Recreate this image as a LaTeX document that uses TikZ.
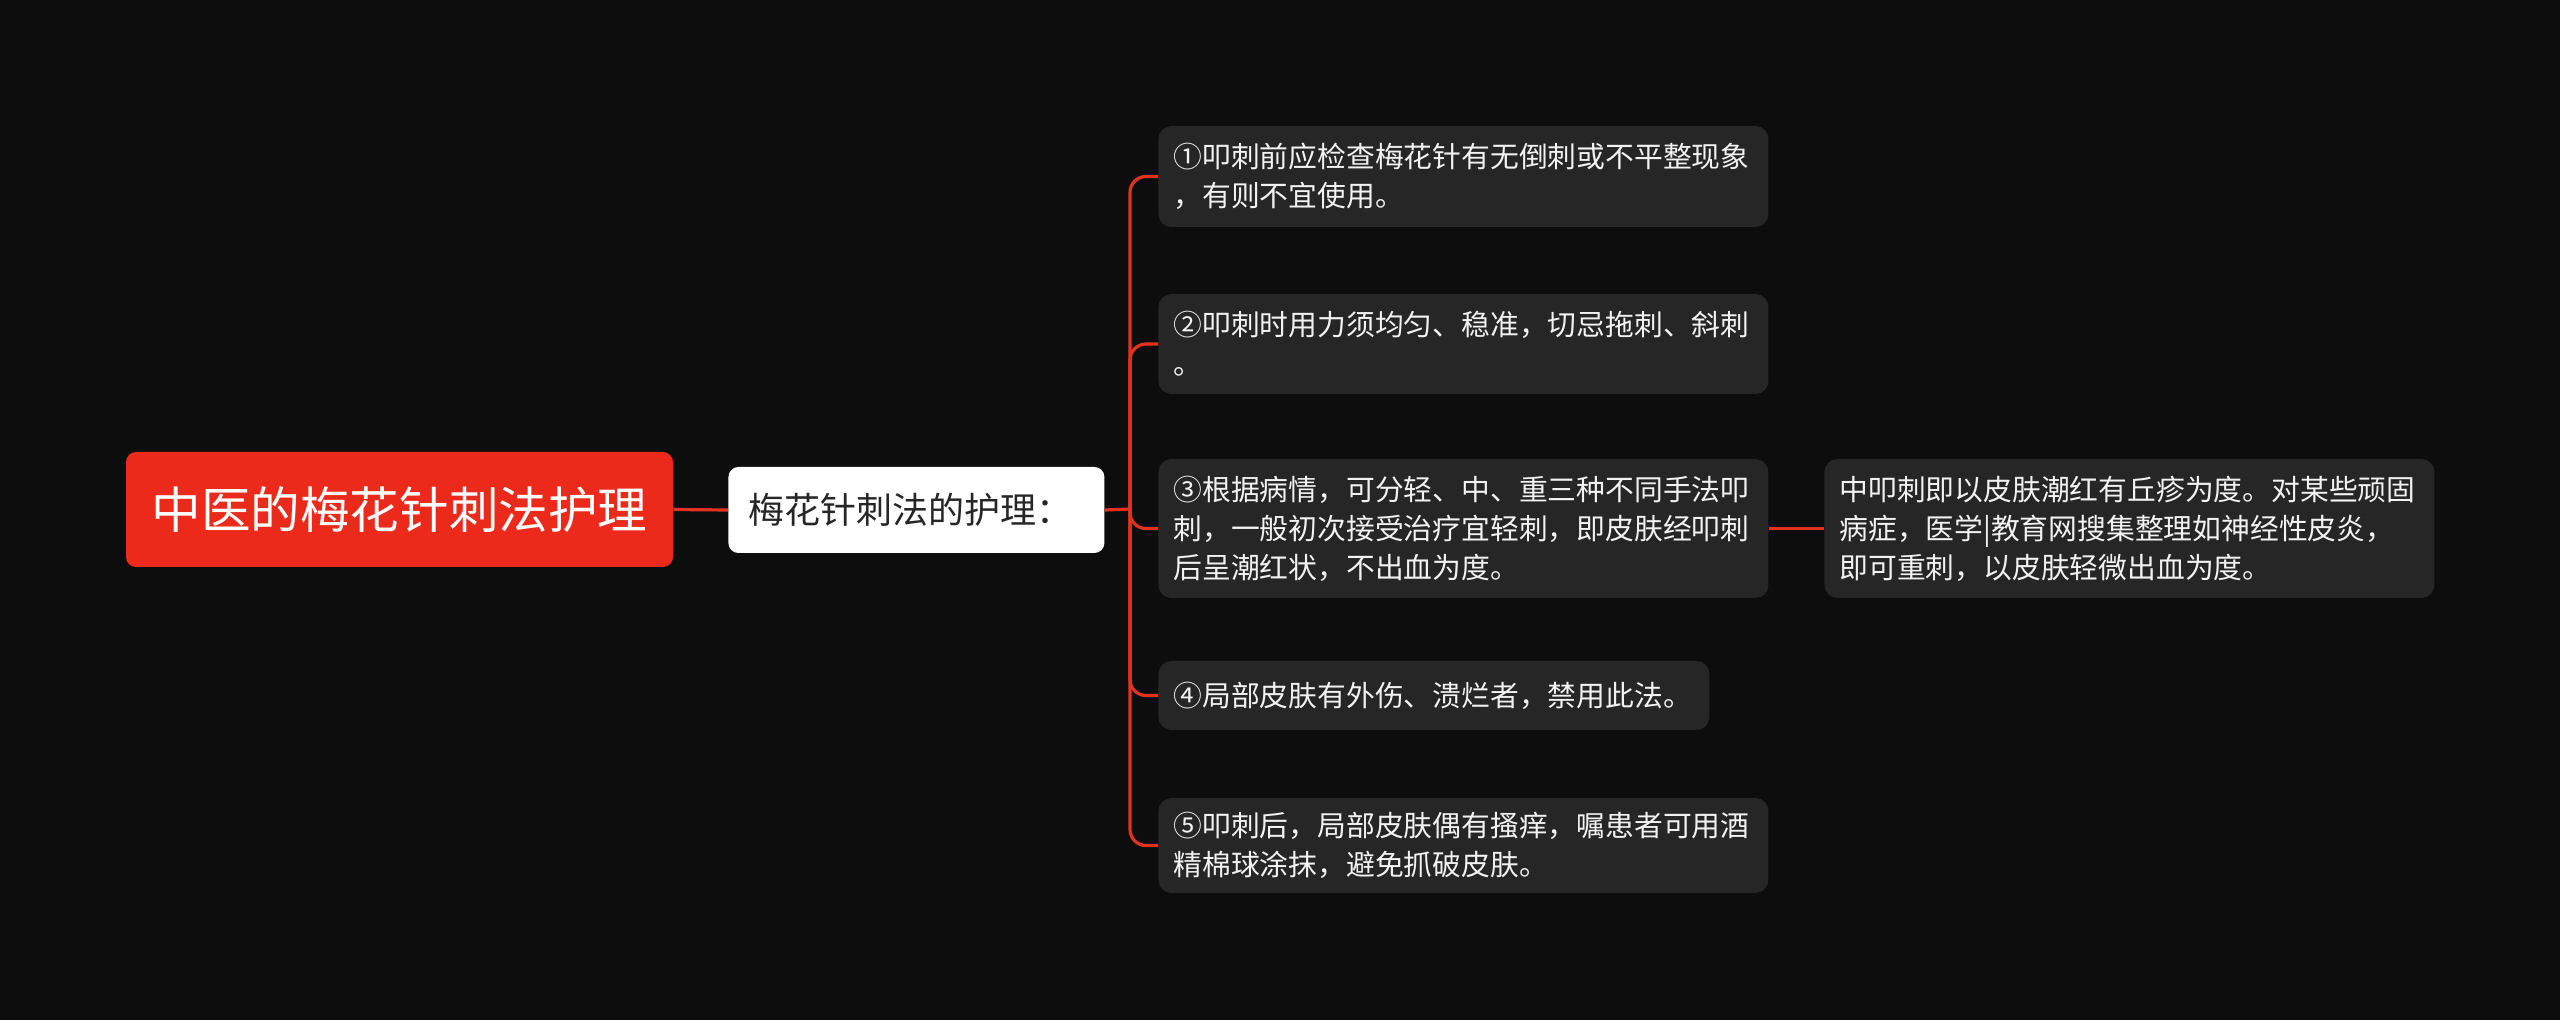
\documentclass[tikz,border=0pt]{standalone}
\usepackage{fontspec}
\setmainfont{Noto Sans CJK SC}

\definecolor{fundo}{HTML}{0D0D0E}
\definecolor{raizcor}{HTML}{EB2A1B}
\definecolor{caixacor}{HTML}{262626}
\definecolor{ramocor}{HTML}{E3321F}
\definecolor{textocor}{HTML}{F2F2F2}

\tikzset{
  raizbox/.style={fill=raizcor, text=white, rounded corners=5pt,
    minimum width=273.5pt, minimum height=57.5pt, inner sep=0pt,
    font=\fontsize{24.8}{30}\selectfont},
  topicobox/.style={fill=white, text=black!85, rounded corners=5pt, anchor=west,
    text width=168pt, align=left, inner xsep=10pt, minimum height=43pt,
    font=\fontsize{18}{22}\selectfont},
  folha/.style={fill=caixacor, text=textocor, rounded corners=6.5pt, anchor=west,
    text width=290pt, align=left, inner xsep=7.5pt, inner ysep=0pt,
    font=\fontsize{14.4}{19.5}\selectfont},
  ligacao/.style={draw=ramocor, line width=1.6pt}
}

\begin{document}
\begin{tikzpicture}[x=0.5pt,y=-0.5pt]
  % fundo
  \fill[fundo] (0,0) rectangle (2560,1020);

  % raiz e topico
  \node[raizbox] (raiz) at (399.5,509.5) {中医的梅花针刺法护理};
  \node[topicobox] (topico) at (728,510) {梅花针刺法的护理：};

  % folhas
  \node[folha, minimum height=50.5pt] (c1) at (1158,176.5)
    {①叩刺前应检查梅花针有无倒刺或不平整现象\\，有则不宜使用。};
  \node[folha, minimum height=50pt] (c2) at (1158,344)
    {②叩刺时用力须均匀、稳准，切忌拖刺、斜刺\\。};
  \node[folha, minimum height=69.5pt] (c3) at (1158,528.5)
    {③根据病情，可分轻、中、重三种不同手法叩\\刺，一般初次接受治疗宜轻刺，即皮肤经叩刺\\后呈潮红状，不出血为度。};
  \node[folha, text width=260.5pt, minimum height=34.5pt] (c4) at (1158,695.5)
    {④局部皮肤有外伤、溃烂者，禁用此法。};
  \node[folha, minimum height=47.5pt] (c5) at (1158,845.5)
    {⑤叩刺后，局部皮肤偶有搔痒，嘱患者可用酒\\精棉球涂抹，避免抓破皮肤。};

  % detalhe do item 3
  \node[folha, minimum height=69.5pt] (det) at (1824,528.5)
    {中叩刺即以皮肤潮红有丘疹为度。对某些顽固\\病症，医学|教育网搜集整理如神经性皮炎，\\即可重刺，以皮肤轻微出血为度。};

  % ligacoes
  \coordinate (eixo) at (1130,509);
  \draw[ligacao] (raiz.east) -- (topico.west);
  \draw[ligacao] (topico.east) -- (eixo);
  \foreach \f in {c1,c2,c3,c4,c5}
    \draw[ligacao, rounded corners=8pt] (eixo) |- (\f.west);
  \draw[ligacao] (c3.east) -- (det.west);
\end{tikzpicture}
\end{document}
